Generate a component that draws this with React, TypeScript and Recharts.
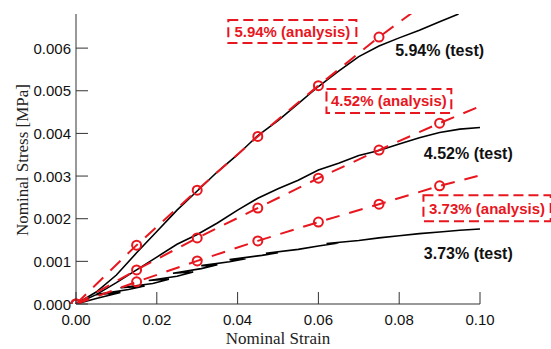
// Nominal stress–strain: test curves vs. analysis (markers every 0.015)
import { LineChart, Line, XAxis, YAxis, ReferenceArea, ReferenceDot } from 'recharts'

const RED = '#e8161e'
const AXIS = '#333'

// analysis series: marker strains + stress values
const markerStrain = [0, 0.015, 0.03, 0.045, 0.06, 0.075, 0.09]
const ana594Strain = [0, 0.015, 0.03, 0.045, 0.06, 0.075, 0.09]
const ana594Stress = [0, 0.00138, 0.00267, 0.00393, 0.00512, 0.00626, 0.0073]
const ana452Strain = [0, 0.015, 0.03, 0.045, 0.06, 0.075, 0.09, 0.0996]
const ana452Stress = [0, 0.0008, 0.00155, 0.00225, 0.00295, 0.00361, 0.00424, 0.00462]
const ana373Strain = [0, 0.015, 0.03, 0.045, 0.06, 0.075, 0.09, 0.0994]
const ana373Stress = [0, 0.00052, 0.00101, 0.00148, 0.00192, 0.00234, 0.00277, 0.003]

// test series
const test594Strain = [0, 0.005, 0.01, 0.015, 0.02, 0.025, 0.03, 0.035, 0.04, 0.045, 0.05, 0.055, 0.06, 0.065, 0.07, 0.075, 0.08, 0.085, 0.09, 0.0947]
const test594Stress = [0, 0.00028, 0.00068, 0.0012, 0.0017, 0.0022, 0.00265, 0.0031, 0.0035, 0.00395, 0.0043, 0.0047, 0.0051, 0.00546, 0.0058, 0.00605, 0.00624, 0.00642, 0.00662, 0.0068]
const test452Strain = [0, 0.005, 0.01, 0.015, 0.02, 0.025, 0.03, 0.035, 0.04, 0.045, 0.05, 0.055, 0.06, 0.065, 0.07, 0.075, 0.08, 0.085, 0.09, 0.095, 0.1]
const test452Stress = [0, 0.00022, 0.0005, 0.0008, 0.0011, 0.0014, 0.00163, 0.0019, 0.0022, 0.00248, 0.0027, 0.0029, 0.00314, 0.0033, 0.00348, 0.0036, 0.00375, 0.0039, 0.00402, 0.0041, 0.00414]
const test373Strain = [0, 0.005, 0.011, 0.005, 0.013, 0.017, 0.011, 0.019, 0.023, 0.018, 0.025, 0.029, 0.024, 0.031, 0.035, 0.031, 0.038, 0.042, 0.038, 0.046, 0.05, 0.047, 0.055, 0.06, 0.065, 0.062, 0.07, 0.075, 0.08, 0.085, 0.09, 0.095, 0.1]
const test373Stress = [0, 0.00013, 0.00027, 0.00022, 0.00034, 0.00042, 0.00038, 0.00048, 0.00058, 0.00055, 0.00065, 0.00075, 0.00072, 0.00083, 0.00092, 0.0009, 0.00099, 0.00106, 0.00104, 0.00114, 0.0012, 0.00119, 0.00128, 0.00136, 0.00143, 0.00142, 0.00149, 0.00155, 0.0016, 0.00165, 0.00169, 0.00173, 0.00176]

const xTicks = [0, 0.02, 0.04, 0.06, 0.08, 0.1]
const yTicks = [0, 0.001, 0.002, 0.003, 0.004, 0.005, 0.006]

const zip = (xs: number[], ys: number[]) => xs.map((x, i) => ({ x, y: ys[i] }))

const XTick = ({ x, y, payload }: any) => (
  <g>
    <line x1={x} y1={y} x2={x} y2={y - 12} stroke={AXIS} />
    <text x={x} y={y + 21} textAnchor="middle" fontSize={15} fill="#111">
      {payload.value.toFixed(2)}
    </text>
  </g>
)

const YTick = ({ x, y, payload }: any) => (
  <g>
    <line x1={x} y1={y} x2={x + 12} y2={y} stroke={AXIS} />
    <text x={x - 5} y={y + 5.5} textAnchor="end" fontSize={15} fill="#111">
      {payload.value.toFixed(3)}
    </text>
  </g>
)

const markerDot = (p: any) =>
  markerStrain.includes(p.payload.x) ? (
    <circle key={`m-${p.index}`} cx={p.cx} cy={p.cy} r={4.5} fill="none" stroke={RED} strokeWidth={2} />
  ) : (
    <g key={`m-${p.index}`} />
  )

const boxLabel = (v: string) => ({ value: v, position: 'center' as const, fill: RED, fontSize: 15, fontWeight: 700 })
const testLabel = (v: string) => ({ value: v, position: 'center' as const, fill: '#111', fontSize: 16, fontWeight: 700 })

export default function App() {
  const analysis = [
    { key: 'a594', data: zip(ana594Strain, ana594Stress) },
    { key: 'a452', data: zip(ana452Strain, ana452Stress) },
    { key: 'a373', data: zip(ana373Strain, ana373Stress) },
  ]
  const tests = [
    { key: 't594', data: zip(test594Strain, test594Stress) },
    { key: 't452', data: zip(test452Strain, test452Stress) },
    { key: 't373', data: zip(test373Strain, test373Stress) },
  ]
  return (
    <div style={{ width: 551, height: 349, fontFamily: '"Liberation Sans", Arial, sans-serif', background: '#fff' }}>
      <style>{'body{margin:0}'}</style>
      <LineChart width={551} height={349} margin={{ top: 14, right: 71, bottom: 0, left: 0 }}>
        <XAxis
          type="number"
          dataKey="x"
          domain={[0, 0.1]}
          ticks={xTicks}
          height={45}
          tickSize={0}
          tickMargin={0}
          tick={<XTick />}
          stroke={AXIS}
          interval={0}
        />
        <YAxis
          type="number"
          dataKey="y"
          domain={[0, 0.0068]}
          allowDataOverflow
          ticks={yTicks}
          width={76}
          tickSize={0}
          tickMargin={0}
          tick={<YTick />}
          stroke={AXIS}
          interval={0}
        />

        {tests.map(s => (
          <Line
            key={s.key}
            data={s.data}
            dataKey="y"
            type="linear"
            stroke="#000"
            strokeWidth={1.6}
            dot={false}
            isAnimationActive={false}
          />
        ))}
        {analysis.map(s => (
          <Line
            key={s.key}
            data={s.data}
            dataKey="y"
            type="linear"
            stroke={RED}
            strokeWidth={2}
            strokeDasharray="14 10"
            dot={markerDot}
            isAnimationActive={false}
          />
        ))}

        <ReferenceArea x1={0.0377} x2={0.0694} y1={0.00612} y2={0.00666} ifOverflow="visible"
          fill="none" stroke={RED} strokeWidth={2} strokeDasharray="10 5" label={boxLabel('5.94% (analysis)')} />
        <ReferenceArea x1={0.062} x2={0.0929} y1={0.00448} y2={0.00504} ifOverflow="visible"
          fill="none" stroke={RED} strokeWidth={2} strokeDasharray="10 5" label={boxLabel('4.52% (analysis)')} />
        <ReferenceArea x1={0.086} x2={0.1175} y1={0.00194} y2={0.00255} ifOverflow="visible"
          fill="none" stroke={RED} strokeWidth={2} strokeDasharray="10 5" label={boxLabel('3.73% (analysis)')} />

        <ReferenceDot x={0.09} y={0.00595} r={0} ifOverflow="visible" label={testLabel('5.94% (test)')} />
        <ReferenceDot x={0.0971} y={0.00354} r={0} ifOverflow="visible" label={testLabel('4.52% (test)')} />
        <ReferenceDot x={0.0971} y={0.0012} r={0} ifOverflow="visible" label={testLabel('3.73% (test)')} />

        <text x={278} y={344} textAnchor="middle" fontSize={17} fontFamily='"Liberation Serif", "Times New Roman", serif' fill="#222">
          Nominal Strain
        </text>
        <text transform="translate(28,160) rotate(-90)" textAnchor="middle" fontSize={17}
          fontFamily='"Liberation Serif", "Times New Roman", serif' fill="#222">
          Nominal Stress [MPa]
        </text>
      </LineChart>
    </div>
  )
}
